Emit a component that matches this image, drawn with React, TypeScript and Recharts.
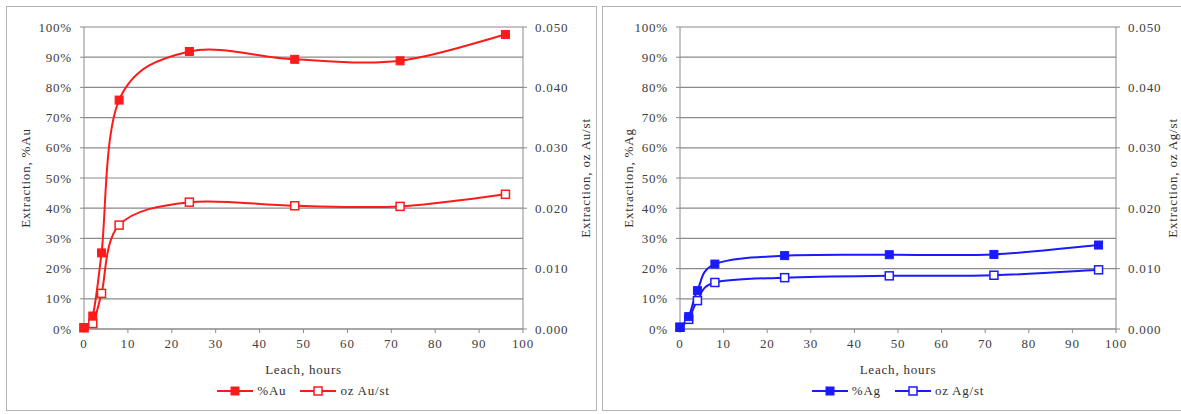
import React from "react";
import { CartesianGrid, Legend, Line, LineChart, XAxis, YAxis } from "recharts";

const hours = [0, 2, 4, 8, 24, 48, 72, 96];
const auPct = [0.5, 4.3, 25.2, 75.8, 91.9, 89.3, 88.8, 97.5];
const auOz = [0.0002, 0.0009, 0.0059, 0.0172, 0.021, 0.0204, 0.0203, 0.0223];
const agPct = [0.5, 4.1, 12.7, 21.5, 24.3, 24.6, 24.7, 27.8];
const agOz = [0.0003, 0.0016, 0.0047, 0.0077, 0.0085, 0.0088, 0.0089, 0.0098];

const hourTicks = [0, 10, 20, 30, 40, 50, 60, 70, 80, 90, 100];
const pctTicks = [0, 10, 20, 30, 40, 50, 60, 70, 80, 90, 100];
const ozTicks = [0, 0.01, 0.02, 0.03, 0.04, 0.05];

const FONT = "'Liberation Serif', 'DejaVu Serif', serif";
const tickStyle = { fontSize: 13, fill: "#404040", fontFamily: FONT, letterSpacing: 0.8 };
const GRID = "#8a8a8a";

// excel-ish smoothed line (catmull-rom to bezier)
function excelSmooth(context: any) {
	let pts: number[][] = [];
	return {
		areaStart() {},
		areaEnd() {},
		lineStart() {
			pts = [];
		},
		lineEnd() {
			if (!pts.length) return;
			context.moveTo(pts[0][0], pts[0][1]);
			for (let i = 0; i < pts.length - 1; i++) {
				const p0 = pts[Math.max(i - 1, 0)];
				const p1 = pts[i];
				const p2 = pts[i + 1];
				const p3 = pts[Math.min(i + 2, pts.length - 1)];
				context.bezierCurveTo(
					p1[0] + (p2[0] - p0[0]) / 6,
					p1[1] + (p2[1] - p0[1]) / 6,
					p2[0] - (p3[0] - p1[0]) / 6,
					p2[1] - (p3[1] - p1[1]) / 6,
					p2[0],
					p2[1],
				);
			}
		},
		point(x: number, y: number) {
			pts.push([+x, +y]);
		},
	};
}

const FilledSquare = (props: any) => {
	const { cx, cy, color } = props;
	if (cx == null || cy == null) return null;
	return <rect x={cx - 4} y={cy - 4} width={8} height={8} fill={color} stroke={color} strokeWidth={1} />;
};

const HollowSquare = (props: any) => {
	const { cx, cy, color } = props;
	if (cx == null || cy == null) return null;
	return <rect x={cx - 4} y={cy - 4} width={8} height={8} fill="#fff" stroke={color} strokeWidth={1.5} />;
};

function LegendIcon({ color, hollow }: { color: string; hollow?: boolean }) {
	return (
		<svg width={36} height={12} style={{ marginRight: 4 }}>
			<line x1={0} y1={6} x2={36} y2={6} stroke={color} strokeWidth={2} />
			<rect x={14} y={2} width={8} height={8} fill={hollow ? "#fff" : color} stroke={color} strokeWidth={hollow ? 1.5 : 1} />
		</svg>
	);
}

interface PanelProps {
	pct: number[];
	oz: number[];
	color: string;
	pctName: string;
	ozName: string;
	leftTitle: string;
	rightTitle: string;
	width: number;
	rightMargin: number;
	leftTitleOffset: number;
	rightTitleOffset: number;
}

function Panel({
	pct,
	oz,
	color,
	pctName,
	ozName,
	leftTitle,
	rightTitle,
	width,
	rightMargin,
	leftTitleOffset,
	rightTitleOffset,
}: PanelProps) {
	const data = hours.map((h, i) => ({ h, pct: pct[i], oz: oz[i] }));
	const plotLeft = 78;
	const plotWidth = width - rightMargin - 68 - plotLeft;
	return (
		<LineChart width={width} height={405} data={data} margin={{ top: 21, right: rightMargin, bottom: 37, left: 10 }}>
			<CartesianGrid yAxisId="left" vertical={false} stroke={GRID} strokeWidth={1.2} />
			<XAxis
				dataKey="h"
				type="number"
				domain={[0, 100]}
				ticks={hourTicks}
				height={45}
				tick={tickStyle}
				tickSize={4}
				tickMargin={6}
				stroke={GRID}
				label={{ value: "Leach, hours", position: "insideBottom", offset: 0, style: { ...tickStyle, fill: "#303030" } }}
			/>
			<YAxis
				yAxisId="left"
				type="number"
				domain={[0, 100]}
				ticks={pctTicks}
				width={68}
				tick={tickStyle}
				tickSize={4}
				tickMargin={8}
				stroke={GRID}
				tickFormatter={(v) => `${v}%`}
				label={{
					value: leftTitle,
					angle: -90,
					position: "insideLeft",
					offset: leftTitleOffset,
					style: { ...tickStyle, fill: "#303030", textAnchor: "middle" },
				}}
			/>
			<YAxis
				yAxisId="right"
				orientation="right"
				type="number"
				domain={[0, 0.05]}
				ticks={ozTicks}
				width={68}
				tick={tickStyle}
				tickSize={4}
				tickMargin={8}
				stroke={GRID}
				tickFormatter={(v) => Number(v).toFixed(3)}
				label={{
					value: rightTitle,
					angle: -90,
					position: "insideRight",
					offset: rightTitleOffset,
					style: { ...tickStyle, fill: "#303030", textAnchor: "middle" },
				}}
			/>
			<Legend
				verticalAlign="middle"
				align="center"
				wrapperStyle={{ top: 377, left: plotLeft, width: plotWidth }}
				content={() => (
					<div
						style={{
							display: "flex",
							justifyContent: "center",
							alignItems: "center",
							fontFamily: FONT,
							fontSize: 13,
							letterSpacing: 0.8,
							color: "#303030",
						}}
					>
						<LegendIcon color={color} />
						<span style={{ marginRight: 14 }}>{pctName}</span>
						<LegendIcon color={color} hollow />
						<span>{ozName}</span>
					</div>
				)}
			/>
			<Line
				yAxisId="right"
				dataKey="oz"
				name={ozName}
				type={excelSmooth as any}
				stroke={color}
				strokeWidth={2}
				dot={<HollowSquare color={color} />}
				activeDot={false}
				isAnimationActive={false}
			/>
			<Line
				yAxisId="left"
				dataKey="pct"
				name={pctName}
				type={excelSmooth as any}
				stroke={color}
				strokeWidth={2}
				dot={<FilledSquare color={color} />}
				activeDot={false}
				isAnimationActive={false}
			/>
		</LineChart>
	);
}

export default function App() {
	const border = "1px solid #b4b4b4";
	return (
		<div
			style={{
				position: "fixed",
				left: 0,
				top: 0,
				width: 1181,
				height: 414,
				background: "#fff",
				overflow: "hidden",
			}}
		>
			<div style={{ position: "absolute", left: 6, top: 6, width: 591, height: 405, border, boxSizing: "border-box" }} />
			<div style={{ position: "absolute", left: 602, top: 6, width: 600, height: 405, border, boxSizing: "border-box" }} />
			<div style={{ position: "absolute", left: 6, top: 6 }}>
				<Panel
					pct={auPct}
					oz={auOz}
					color="#ff1a1a"
					pctName="%Au"
					ozName="oz Au/st"
					leftTitle="Extraction, %Au"
					rightTitle="Extraction, oz Au/st"
					width={591}
					rightMargin={6}
					leftTitleOffset={9}
					rightTitleOffset={6}
				/>
			</div>
			<div style={{ position: "absolute", left: 602, top: 6 }}>
				<Panel
					pct={agPct}
					oz={agOz}
					color="#1a1aff"
					pctName="%Ag"
					ozName="oz Ag/st"
					leftTitle="Extraction, %Ag"
					rightTitle="Extraction, oz Ag/st"
					width={590}
					rightMargin={8}
					leftTitleOffset={16}
					rightTitleOffset={12}
				/>
			</div>
		</div>
	);
}
